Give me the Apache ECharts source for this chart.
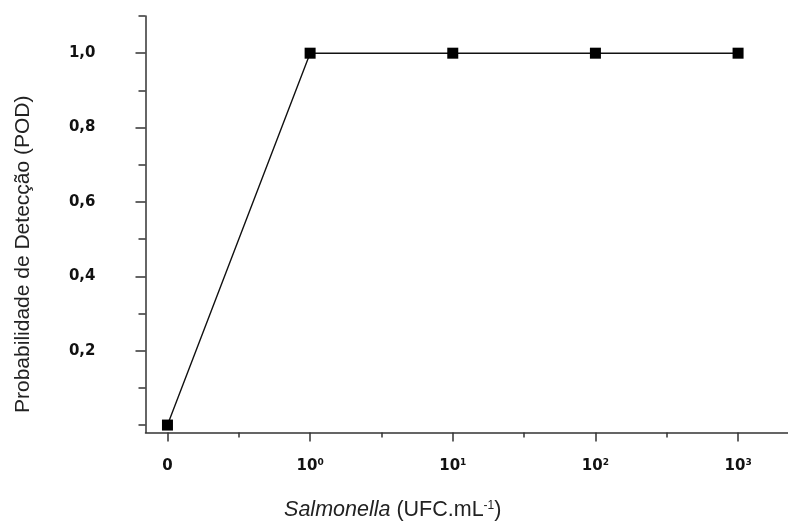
<!DOCTYPE html>
<html>
<head>
<meta charset="utf-8">
<script src="https://cdn.jsdelivr.net/npm/echarts@6/dist/echarts.min.js"></script>
<style>
  html, body { margin: 0; padding: 0; background: #fff; }
  #chart { width: 788px; height: 524px; }
</style>
</head>
<body>
<div id="chart"></div>
<script>
// categories on the x axis: base and superscript exponent
const categories = ['0', '10', '10', '10', '10']
const exponents = ['', '0', '1', '2', '3']
// probability of detection for each concentration
const podValues = [0, 1, 1, 1, 1]
// y tick labels
const yLabelValues = [0.2, 0.4, 0.6, 0.8, 1.0]
const yMajorTicks = [0.2, 0.4, 0.6, 0.8, 1.0]
const yMinorTicks = [0, 0.1, 0.3, 0.5, 0.7, 0.9, 1.1]
const xMajorTicks = [0, 1, 2, 3, 4]
const xMinorTicks = [0.5, 1.5, 2.5, 3.5]

const chart = echarts.init(document.getElementById('chart'), null, { renderer: 'canvas' })

const axisLine = { show: true, onZero: false, lineStyle: { color: '#333', width: 1.5 } }
const font = 'Liberation Sans, Arial, sans-serif'
const tickFont = 'DejaVu Sans, sans-serif'

chart.setOption({
  animation: false,
  backgroundColor: '#fff',
  grid: { left: 145.5, top: 16, right: 0, bottom: 91.5, outerBoundsMode: 'none', containLabel: false },
  xAxis: [
    {
      type: 'value',
      min: -0.154,
      max: 4.35,
      position: 'bottom',
      axisLine: axisLine,
      splitLine: { show: false },
      axisTick: { show: true, length: 9, customValues: xMajorTicks, lineStyle: { color: '#333', width: 1.5 } },
      axisLabel: {
        customValues: xMajorTicks,
        margin: 26,
        color: '#111',
        fontFamily: tickFont,
        fontWeight: 'bold',
        fontSize: 15,
        formatter: v => {
          const i = Math.round(v)
          return exponents[i] ? categories[i] + '{s|' + exponents[i] + '}' : categories[i]
        },
        rich: {
          s: { fontSize: 9, fontFamily: tickFont, fontWeight: 'bold', color: '#111', padding: [0, 0, 7, 0] }
        }
      },
      name: '{i|Salmonella} (UFC.mL{s|-1})',
      nameLocation: 'middle',
      nameGap: 67,
      nameMoveOverlap: false,
      nameTextStyle: {
        color: '#222',
        fontFamily: font,
        fontSize: 21.5,
        padding: [0, 148, 0, 0],
        rich: {
          i: { fontStyle: 'italic', fontSize: 21.5, fontFamily: font, color: '#222' },
          s: { fontSize: 12, fontFamily: font, color: '#222', padding: [0, 0, 10, 0] }
        }
      }
    },
    {
      type: 'value',
      min: -0.154,
      max: 4.35,
      position: 'bottom',
      offset: 0,
      axisLine: { show: false, onZero: false },
      splitLine: { show: false },
      axisLabel: { show: false },
      axisTick: { show: true, length: 5, customValues: xMinorTicks, lineStyle: { color: '#333', width: 1.5 } }
    }
  ],
  yAxis: [
    {
      type: 'value',
      min: -0.02,
      max: 1.1,
      axisLine: axisLine,
      splitLine: { show: false },
      axisTick: { show: true, length: 10, customValues: yMajorTicks, lineStyle: { color: '#333', width: 1.5 } },
      axisLabel: {
        customValues: yLabelValues,
        margin: 50,
        color: '#111',
        fontFamily: tickFont,
        fontWeight: 'bold',
        fontSize: 15,
        formatter: v => v.toFixed(1).replace('.', ',')
      },
      name: 'Probabilidade de Detecção (POD)',
      nameLocation: 'middle',
      nameGap: 112,
      nameRotate: 90,
      nameMoveOverlap: false,
      nameTextStyle: {
        color: '#222',
        fontFamily: font,
        fontSize: 21,
        padding: [0, 60, 0, 0]
      }
    },
    {
      type: 'value',
      min: -0.02,
      max: 1.1,
      axisLine: { show: false, onZero: false },
      splitLine: { show: false },
      axisLabel: { show: false },
      position: 'left',
      offset: 0,
      axisTick: { show: true, length: 7, customValues: yMinorTicks, lineStyle: { color: '#333', width: 1.5 } }
    }
  ],
  series: [
    {
      type: 'line',
      data: podValues.map((v, i) => [i, v]),
      symbol: 'rect',
      symbolSize: 11,
      itemStyle: { color: '#000' },
      lineStyle: { color: '#111', width: 1.4 },
      silent: true
    }
  ]
})
</script>
</body>
</html>
